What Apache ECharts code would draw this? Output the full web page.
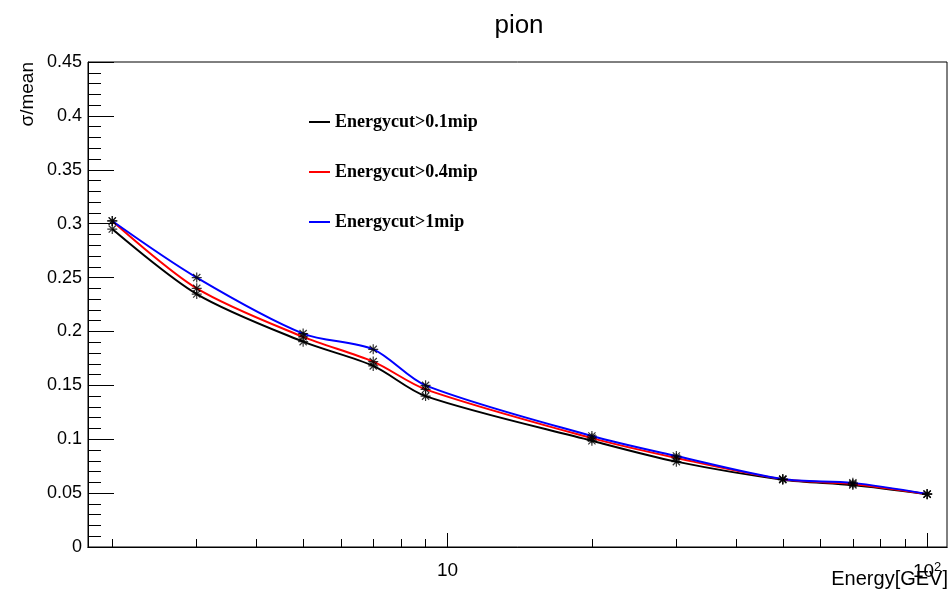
<!DOCTYPE html>
<html>
<head>
<meta charset="utf-8">
<script src="https://cdn.jsdelivr.net/npm/echarts@6/dist/echarts.min.js"></script>
<style>html,body{margin:0;padding:0;background:#fff}#c{width:952px;height:594px}</style>
</head>
<body>
<div id="c"></div>
<script>
const energies = [2, 3, 5, 7, 9, 20, 30, 50, 70, 100];
const cut01 = [0.295, 0.2347, 0.1905, 0.168, 0.140, 0.0986, 0.0792, 0.0625, 0.0575, 0.0490];
const cut04 = [0.3025, 0.240, 0.195, 0.172, 0.1463, 0.101, 0.0826, 0.0628, 0.0585, 0.0490];
const cut1 = [0.3025, 0.250, 0.198, 0.1834, 0.150, 0.103, 0.0844, 0.0630, 0.0595, 0.0492];
const seriesNames = ['Energycut>0.1mip', 'Energycut>0.4mip', 'Energycut>1mip'];
const seriesColors = ['#000000', '#ff0000', '#0000ff'];
const minorTickValues = [2, 3, 4, 5, 6, 7, 8, 9, 20, 30, 40, 50, 60, 70, 80, 90];
const majorTickValues = [10, 100];

const pairs = arr => energies.map((e, i) => [e, arr[i]]);
const allData = [cut01, cut04, cut1];
const star = 'path://M0,-5L0,5M-5,0L5,0M-3.6,-3.6L3.6,3.6M-3.6,3.6L3.6,-3.6';

const series = [];
allData.forEach((d, i) => {
  series.push({
    name: seriesNames[i], type: 'line', data: pairs(d), smooth: 0.3,
    symbol: 'none', lineStyle: {color: seriesColors[i], width: 2},
    itemStyle: {color: seriesColors[i]}, z: 2
  });
});
allData.forEach((d, i) => {
  series.push({
    type: 'scatter', data: pairs(d), symbol: star, symbolSize: 10,
    itemStyle: {color: 'none', borderColor: '#000', borderWidth: 1.2}, z: 3, silent: true
  });
});

const chart = echarts.init(document.getElementById('c'), null, {renderer: 'canvas'});
const xBase = {
  type: 'log', logBase: 10, min: 1.78, max: 110, position: 'bottom',
  axisLine: {show: true, lineStyle: {color: '#000', width: 1}},
  splitLine: {show: false}
};
chart.setOption({
  animation: false,
  backgroundColor: '#fff',
  title: {text: 'pion', left: 514, textAlign: 'center', top: 8,
    textStyle: {fontFamily: 'Liberation Sans', fontWeight: 'normal', fontSize: 26, color: '#000'}},
  grid: {left: 88, right: 5, top: 62, bottom: 47, show: true, borderColor: '#000', borderWidth: 1, containLabel: false},
  legend: {
    orient: 'vertical', left: 304, top: 108, itemGap: 32, itemWidth: 21, itemHeight: 2,
    icon: 'rect', data: seriesNames,
    textStyle: {fontFamily: 'Liberation Serif', fontWeight: 'bold', fontSize: 18, color: '#000', lineHeight: 18}
  },
  xAxis: [
    Object.assign({}, xBase, {
      axisTick: {show: true, inside: true, length: 8, customValues: minorTickValues, lineStyle: {color: '#000'}},
      axisLabel: {show: false}
    }),
    Object.assign({}, xBase, {
      axisTick: {show: true, inside: true, length: 14, customValues: majorTickValues, lineStyle: {color: '#000'}},
      axisLabel: {show: true, customValues: majorTickValues, margin: 14,
        fontFamily: 'Liberation Sans', fontSize: 19, color: '#000',
        formatter: v => v >= 99 ? '10{sup|2}' : String(Math.round(v)),
        rich: {sup: {fontSize: 13, verticalAlign: 'top', padding: [0, 0, 9, 0], fontFamily: 'Liberation Sans', color: '#000'}}}
    })
  ],
  yAxis: {
    type: 'value', min: 0, max: 0.45, interval: 0.05,
    axisLine: {show: true, lineStyle: {color: '#000'}},
    axisTick: {show: true, inside: true, length: 26, lineStyle: {color: '#000'}},
    minorTick: {show: true, splitNumber: 5, length: 13, lineStyle: {color: '#000'}},
    splitLine: {show: false},
    axisLabel: {margin: 6, fontFamily: 'Liberation Sans', fontSize: 18, color: '#000',
      formatter: v => String(parseFloat(v.toFixed(2)))}
  },
  graphic: [
    {type: 'text', x: 37, y: 62, rotation: Math.PI / 2,
      style: {text: 'σ/mean', fontFamily: 'Liberation Sans', fontSize: 19, fill: '#000', align: 'right', verticalAlign: 'bottom'}},
    {type: 'text', x: 948, y: 589,
      style: {text: 'Energy[GEV]', fontFamily: 'Liberation Sans', fontSize: 20, fill: '#000', align: 'right', verticalAlign: 'bottom'}}
  ],
  series: series
});
</script>
</body>
</html>
